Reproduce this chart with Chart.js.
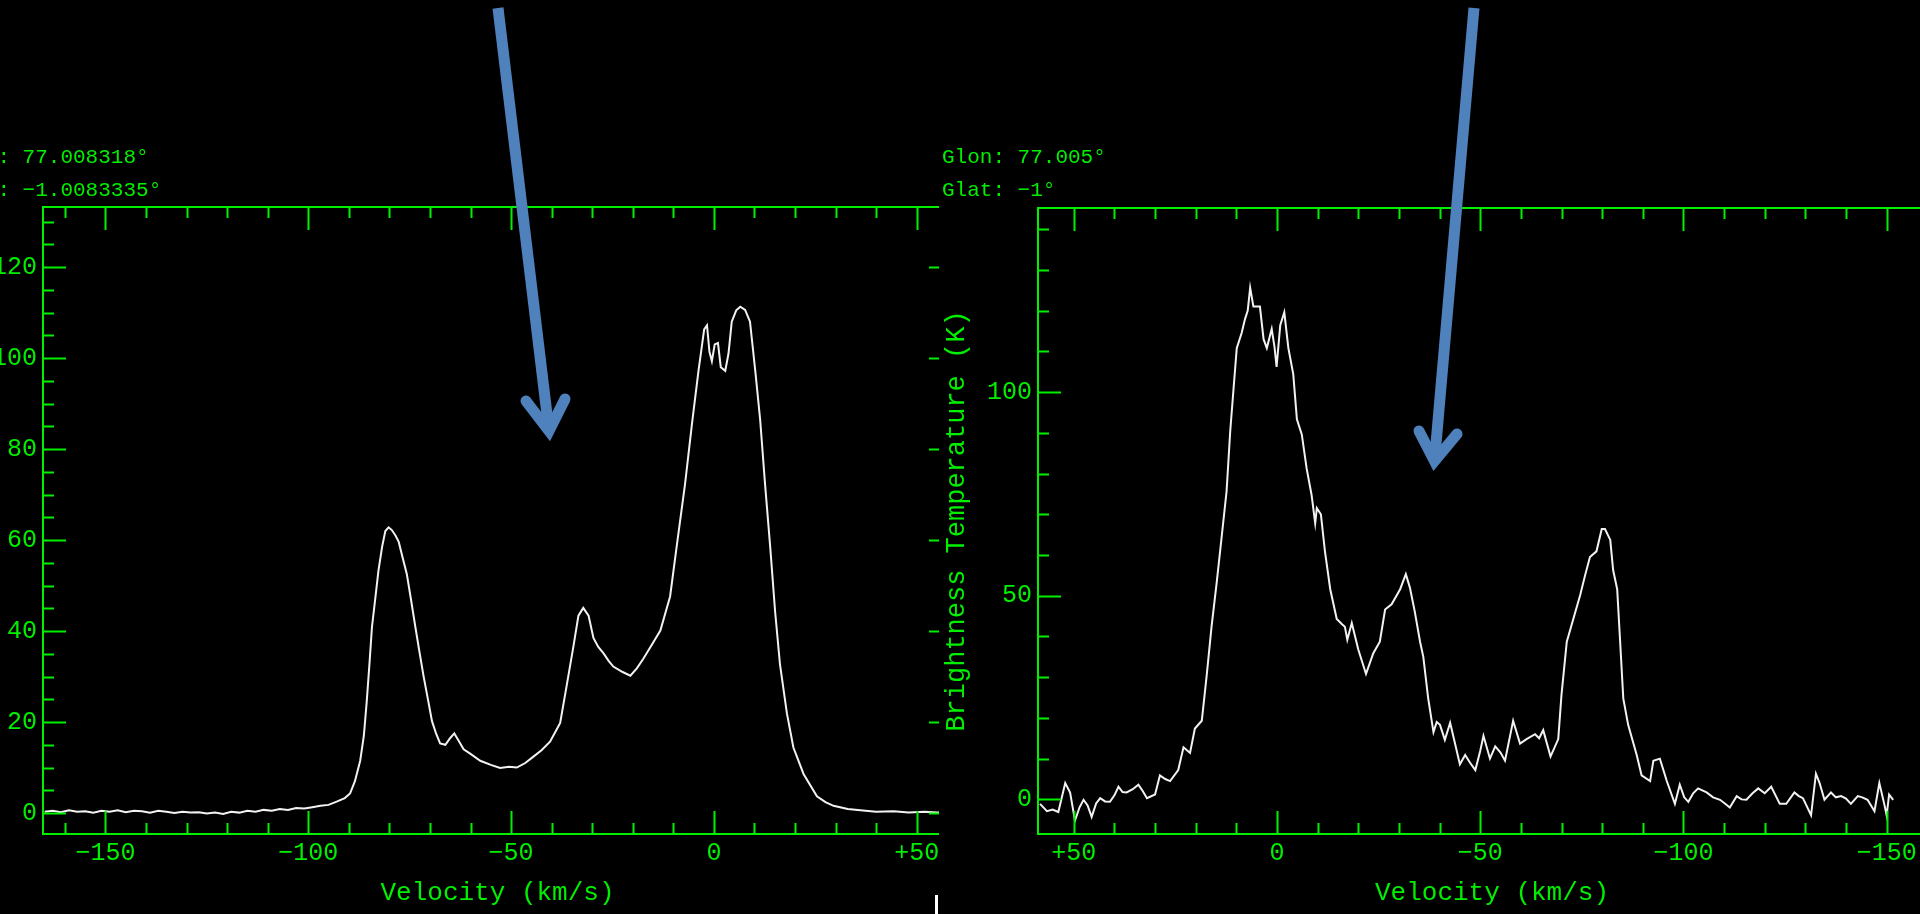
<!DOCTYPE html>
<html>
<head>
<meta charset="utf-8">
<script src="https://cdn.jsdelivr.net/npm/chart.js@4.4.1/dist/chart.umd.min.js"></script>
<style>
html, body { margin: 0; padding: 0; background: #000; width: 1920px; height: 914px; overflow: hidden; }
canvas { display: block; }
#leftWrap { position: absolute; left: 0; top: 0; width: 939px; height: 914px; overflow: hidden; }
#rightWrap { position: absolute; left: 939px; top: 0; width: 981px; height: 914px; overflow: hidden; }
#overlay { position: absolute; left: 0; top: 0; pointer-events: none; }
</style>
</head>
<body>
<div id="leftWrap"><canvas id="leftChart" width="960" height="914"></canvas></div>
<div id="rightWrap"><canvas id="rightChart" width="1015" height="914"></canvas></div>
<canvas id="overlay" width="1920" height="914"></canvas>
<script>
// left spectrum (Glon 77.008318, Glat -1.0083335)
const leftVelocity = [
  -165, -163, -161, -159, -157, -155, -153, -151, -149, -147,
  -145, -143, -141, -139, -137, -135, -133, -131, -129, -127,
  -125, -123, -121, -119, -117, -115, -113, -111, -109, -107,
  -105, -103, -101, -99, -97, -95, -93, -91, -89.7, -88.5,
  -87.2, -86.3, -85.6, -84.9, -84.3, -83.5, -82.7, -81.8, -81.0, -80.2,
  -79.4, -78.5, -77.7, -76.7, -75.7, -74.6, -73.6, -72.6, -71.6, -70.5,
  -69.5, -68.5, -67.5, -66.2, -65, -64, -63, -61.7, -60, -57.6,
  -55, -52.7, -50.5, -48.6, -46.5, -44.5, -42.5, -40.4, -39, -37.9,
  -36.2, -34.6, -33.4, -32.2, -30.9, -29.7, -28.5, -27.2, -26, -24.8,
  -22.5, -20.6, -19, -17.4, -15.3, -13.2, -10.8, -9.1, -7.1, -5.4,
  -3.8, -2.4, -1.7, -1.1, -0.5, 0.2, 1.0, 1.7, 2.8, 3.6,
  4.4, 5.5, 6.5, 7.7, 8.9, 10.2, 11.4, 12.6, 13.9, 15.1,
  16.3, 18.0, 19.6, 22.1, 25.4, 27.5, 29.5, 33, 36.1, 40,
  44.3, 48, 52, 55, 58
];
const leftTemp = [
  0.3, 0.5, 0.2, 0.6, 0.3, 0.4, 0.1, 0.5, 0.3, 0.6,
  0.2, 0.5, 0.4, 0.1, 0.5, 0.3, 0.0, 0.3, 0.1, 0.2,
  -0.1, 0.1, -0.2, 0.3, 0.1, 0.5, 0.3, 0.7, 0.5, 0.9,
  0.7, 1.1, 1.0, 1.3, 1.6, 1.8, 2.5, 3.3, 4.3, 7,
  11.5, 17, 24.4, 33, 40.9, 47, 53.3, 58.5, 62.0, 62.8,
  62.2, 61, 59.6, 56, 52.5, 46.5, 40.9, 35.5, 30.2, 25,
  20.2, 17.5, 15.3, 15.0, 16.5, 17.5, 16, 14.0, 13, 11.5,
  10.6, 9.9, 10.2, 10.0, 11, 12.4, 13.8, 15.7, 18, 19.8,
  28.5, 36.8, 43.4, 45.1, 43.4, 38.5, 36.5, 35.1, 33.5, 32.2,
  31, 30.2, 31.8, 33.9, 37, 40.1, 47.6, 59.1, 72.4, 85.6,
  97.2, 106.3, 107.2, 101.4, 99.3, 103, 103.3, 98, 97.2, 101,
  108, 110.5, 111.3, 110.6, 108, 97.2, 86.5, 72.4, 58.3, 44.2,
  32.6, 21.9, 14.4, 8.6, 3.7, 2.4, 1.6, 0.9, 0.6, 0.3,
  0.4, 0.1, 0.3, 0.1, 0.2
];

// right spectrum (Glon 77.005, Glat -1)
const rightVelocity = [
  58.3, 56.6, 55.2, 53.8, 52.1, 50.9, 49.7, 48.6, 47.6, 46.6,
  45.6, 44.5, 43.5, 42.3, 41.1, 40, 39.0, 38, 37.0, 35.5,
  34.1, 33, 32.0, 30.0, 28.8, 27.5, 26.3, 24.3, 23.0, 21.4,
  20.2, 18.5, 17.3, 16.1, 14.8, 13.6, 12.4, 11.5, 10.7, 9.9,
  8.7, 7.9, 7.2, 6.6, 5.8, 4.2, 3.3, 2.5, 1.3, 0.6,
  0.1, -0.8, -1.8, -2.8, -4.0, -4.9, -6.1, -7.3, -8.5, -9.4,
  -9.8, -10.8, -11.8, -13.1, -14.7, -16.0, -16.7, -17.3, -18.4, -20.0,
  -21.9, -23.7, -25.3, -26.6, -28.2, -30.3, -31.7, -32.7, -33.9, -35.2,
  -36.0, -37.2, -38.5, -39.3, -40.1, -41.3, -42.6, -43.8, -45.0, -46.3,
  -47.5, -48.8, -50.0, -50.8, -52.4, -53.7, -55, -56.1, -58.1, -59.8,
  -61.4, -63.5, -64.5, -65.5, -67.3, -69.2, -70.0, -71.3, -72.5, -74.6,
  -75.8, -77.0, -78.6, -79.9, -80.7, -82.0, -82.7, -83.7, -84.4, -85.2,
  -86.4, -88.5, -89.7, -91.8, -92.6, -94.2, -95.9, -97.9, -99.1, -100.2,
  -101.2, -102.4, -103.6, -105.7, -107.3, -109.0, -110.2, -111.4, -113.1, -114.3,
  -115.5, -117, -118.4, -120, -121.6, -123.7, -125.3, -127.3, -128.4, -129.4,
  -131.4, -132.6, -133.5, -134.7, -136.3, -137.5, -138.8, -140, -141.2, -142.9,
  -144, -145.3, -147.0, -148.2, -149.4, -150.0, -150.6, -151.6
];
const rightTemp = [
  -1.1, -2.9, -2.5, -3.1, 4.0, 1.7, -5.2, -2, -0.1, -1.5,
  -4.3, -1, 0.3, -0.5, -0.6, 1, 3.1, 1.8, 1.7, 2.5,
  3.6, 2, 0.3, 1.2, 5.9, 5, 4.5, 7.2, 12.8, 11.4,
  17.4, 19.3, 30.4, 42.4, 53.5, 64.6, 75.7, 90.5, 100.7, 110.8,
  114.5, 117.8, 120, 125.6, 121, 121, 113, 110.8, 115.5, 111,
  106.2, 116.4, 119.6, 110.8, 104.4, 93.3, 89.6, 81.2, 74.8, 67.8,
  71.5, 70, 60.9, 51.6, 44.3, 43, 42.4, 39.2, 43.3, 36.8,
  30.8, 35.9, 38.7, 46.6, 47.9, 51.6, 55.3, 52, 46.1, 38.7,
  35.0, 24.8, 16.5, 19, 18.3, 14.6, 18.8, 13.7, 8.6, 10.9,
  9, 7.2, 11.9, 15.6, 10.0, 13, 11.5, 9.5, 19.3, 13.7,
  14.8, 16.0, 15, 17.0, 10.5, 14.8, 25.7, 38.7, 42.9, 50.2,
  55, 59.5, 60.9, 66.4, 66.4, 63.7, 56.3, 51.6, 39.2, 24.8,
  18.3, 10.9, 5.9, 4.5, 9.5, 10.0, 4.5, -1.1, 3.6, 0.5,
  -0.6, 1.5, 2.7, 1.7, 0.5, -0.1, -1, -2.0, 0.8, 0,
  -0.1, 1.5, 2.7, 1.5, 3.1, -1.1, -1.1, 1.7, 0.8, 0.3,
  -3.9, 6.3, 4, -0.1, 1.7, 0.5, 0.8, 0.2, -1.1, 0.8,
  0.5, -0.1, -2.9, 4.0, -1.1, -3.9, 1.2, -0.1
];

const leftXTicks = [-150, -100, -50, 0, 50];
const leftYTicks = [0, 20, 40, 60, 80, 100, 120];
const rightXTicks = [50, 0, -50, -100, -150];
const rightYTicks = [0, 50, 100];

const GREEN = '#00f000';
const FONT = "'Liberation Mono', 'DejaVu Sans Mono', monospace";

function velLabel(v) {
  if (v > 0) return '+' + v;
  if (v < 0) return '\u2212' + Math.abs(v);
  return '0';
}

// pgplot style box: frame plus inward ticks on all four sides
const frameTicks = {
  id: 'frameTicks',
  afterDraw(chart, args, opts) {
    const { ctx, chartArea: a } = chart;
    const x = chart.scales.x, y = chart.scales.y;
    ctx.save();
    ctx.strokeStyle = GREEN;
    ctx.lineWidth = 2;
    ctx.strokeRect(a.left, a.top, a.right - a.left, a.bottom - a.top);
    ctx.beginPath();
    for (let v = Math.ceil(x.min / 10) * 10; v <= x.max; v += 10) {
      const px = Math.round(x.getPixelForValue(v)) + 0.5;
      const len = v % 50 === 0 ? 23 : 11;
      ctx.moveTo(px, a.bottom); ctx.lineTo(px, a.bottom - len);
      ctx.moveTo(px, a.top); ctx.lineTo(px, a.top + len);
    }
    for (let v = Math.ceil(y.min / opts.yMinor) * opts.yMinor; v <= y.max; v += opts.yMinor) {
      const py = Math.round(y.getPixelForValue(v)) + 0.5;
      const len = v % opts.yMajor === 0 ? 23 : 11;
      ctx.moveTo(a.left, py); ctx.lineTo(a.left + len, py);
      ctx.moveTo(a.right, py); ctx.lineTo(a.right - len, py);
    }
    ctx.stroke();
    ctx.fillStyle = GREEN;
    ctx.font = '21px ' + FONT;
    ctx.textBaseline = 'middle';
    ctx.fillText(opts.glon, a.left - 96, 157);
    ctx.fillText(opts.glat, a.left - 96, 190);
    ctx.restore();
  }
};

function makeChart(id, vel, temp, cfg) {
  return new Chart(document.getElementById(id), {
    type: 'line',
    data: {
      datasets: [{
        data: vel.map((v, i) => ({ x: v, y: temp[i] })),
        borderColor: '#f2f2f2',
        borderWidth: 2,
        pointRadius: 0,
        tension: 0
      }]
    },
    options: {
      responsive: false,
      animation: false,
      events: [],
      layout: { padding: { left: 0, right: 8, top: cfg.top, bottom: 0 } },
      plugins: {
        legend: { display: false },
        tooltip: { enabled: false },
        frameTicks: { yMinor: cfg.yMinor, yMajor: cfg.yMajor, glon: cfg.glon, glat: cfg.glat }
      },
      scales: {
        x: {
          type: 'linear',
          min: cfg.xMin, max: cfg.xMax,
          reverse: cfg.reverse,
          afterBuildTicks: s => { s.ticks = cfg.xTicks.map(v => ({ value: v })); },
          afterFit: s => { s.height = 80; },
          grid: { display: false, drawTicks: false },
          border: { display: false },
          ticks: { color: GREEN, font: { size: 25, family: FONT }, padding: 4, maxRotation: 0, autoSkip: false, callback: v => velLabel(v) },
          title: { display: true, text: 'Velocity (km/s)', color: GREEN, font: { size: 26, family: FONT }, padding: { top: 0, bottom: 5 } }
        },
        y: {
          type: 'linear',
          min: cfg.yMin, max: cfg.yMax,
          afterBuildTicks: s => { s.ticks = cfg.yTicks.map(v => ({ value: v })); },
          afterFit: s => { s.width = cfg.yWidth; },
          grid: { display: false, drawTicks: false },
          border: { display: false },
          ticks: { color: GREEN, font: { size: 25, family: FONT }, padding: 6, autoSkip: false, callback: v => String(v) },
          title: { display: cfg.yTitle, text: 'Brightness Temperature (K)', color: GREEN, font: { size: 27, family: FONT }, padding: { top: 2, bottom: 0 } }
        }
      }
    },
    plugins: [frameTicks]
  });
}

makeChart('leftChart', leftVelocity, leftTemp, {
  top: 207, xMin: -165.4, xMax: 58.7, reverse: false, xTicks: leftXTicks,
  yMin: -4.6, yMax: 133.2, yTicks: leftYTicks, yMinor: 5, yMajor: 20,
  yWidth: 43, yTitle: false,
  glon: 'Glon: 77.008318\u00b0', glat: 'Glat: \u22121.0083335\u00b0'
});

makeChart('rightChart', rightVelocity, rightTemp, {
  top: 208, xMin: -164.6, xMax: 58.8, reverse: true, xTicks: rightXTicks,
  yMin: -8.5, yMax: 145.2, yTicks: rightYTicks, yMinor: 10, yMajor: 50,
  yWidth: 99, yTitle: true,
  glon: 'Glon: 77.005\u00b0', glat: 'Glat: \u22121\u00b0'
});

// slide annotations: blue arrows and a stray white mark
const oc = document.getElementById('overlay').getContext('2d');
oc.strokeStyle = 'rgb(79,129,189)';
oc.lineWidth = 11;
function arrow(top, vertex, armA, armB) {
  oc.lineCap = 'butt';
  oc.beginPath(); oc.moveTo(top[0], top[1]); oc.lineTo(vertex[0], vertex[1]); oc.stroke();
  oc.lineCap = 'round';
  oc.lineJoin = 'miter';
  oc.beginPath(); oc.moveTo(armA[0], armA[1]); oc.lineTo(vertex[0], vertex[1]); oc.lineTo(armB[0], armB[1]); oc.stroke();
}
arrow([498, 8], [549, 431], [526, 401], [565, 399]);
arrow([1474, 8], [1434.5, 461], [1419, 431], [1457, 434]);
oc.fillStyle = '#ffffff';
oc.fillRect(935, 895, 3, 19);
</script>
</body>
</html>
